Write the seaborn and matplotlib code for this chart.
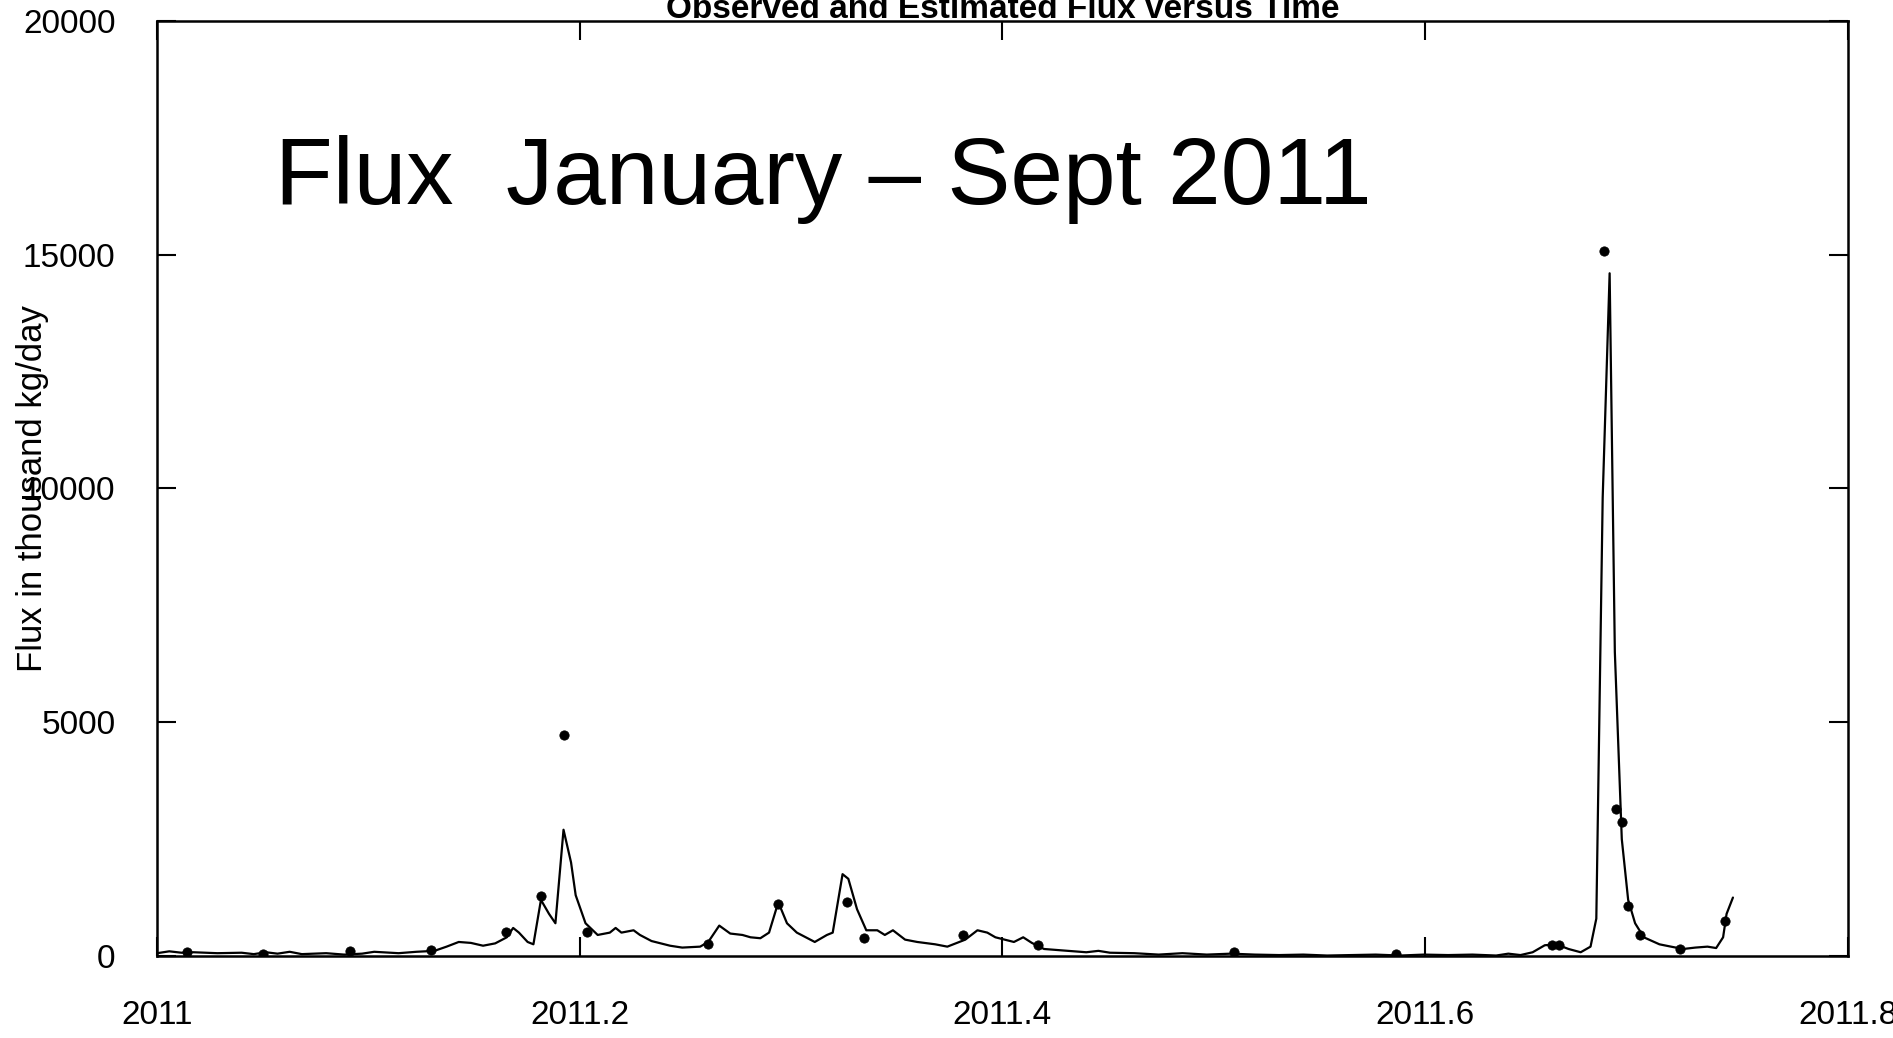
import numpy as np
import pandas as pd
import matplotlib
matplotlib.use("Agg")
import matplotlib.pyplot as plt
import seaborn as sns

# estimated flux (day of year 2011, thousand kg/day)
est_day = [0, 2.1, 4.2, 6.3, 10.4, 14.6, 16.7, 18.8, 20.8, 22.9, 25, 29.2, 32.3, 35.4, 37.5, 41.7,
           44.8, 47.9, 50, 52.1, 54.2, 56.3, 58.4, 60.4, 61.5, 62.5, 64, 65, 66.3, 67.7, 68.8, 70.2,
           71.5, 72.3, 74, 76.1, 78.2, 79.2, 80.2, 82.3, 83.4, 85.4, 88.6, 90.7, 93.8, 95.2, 97.1,
           99, 101.1, 102.5, 104.2, 105.7, 107.3, 108.8, 110.5, 113.6, 115.7, 116.7, 118.4, 119.4,
           120.9, 122.5, 124.4, 125.7, 127.1, 129.2, 131.3, 134.4, 136.5, 139.6, 141.7, 143.4,
           144.8, 148, 149.6, 151.1, 153.2, 156.3, 160.5, 162.6, 164.6, 168.8, 173, 177.1, 181.3,
           185.5, 189.6, 193.8, 198, 202.1, 206.3, 210.5, 214.7, 218.8, 223, 227.2, 231.3, 233.4,
           235.5, 237.6, 239.7, 241.7, 243.8, 245.9, 247.6, 248.6, 249.7, 250.9, 251.8, 253, 254.1,
           255.3, 256.8, 259.5, 261.5, 263.6, 265.7, 267.8, 269.3, 270.5, 271.1, 272.2]
est_flux = [60, 100, 70, 80, 60, 70, 40, 80, 50, 90, 40, 60, 30, 50, 90, 60,
            90, 110, 200, 300, 280, 220, 270, 400, 600, 500, 300, 250, 1200, 900, 700, 2700,
            2000, 1300, 700, 450, 500, 600, 500, 550, 450, 320, 220, 180, 200, 300, 650,
            480, 450, 400, 380, 500, 1150, 700, 500, 300, 450, 500, 1750, 1650,
            1000, 550, 550, 450, 550, 350, 300, 250, 200, 350, 550, 500,
            400, 300, 400, 280, 150, 120, 80, 110, 70, 60, 30, 60, 30,
            50, 30, 20, 30, 10, 20, 30, 10, 30, 20, 30, 10, 50,
            20, 80, 230, 250, 150, 80, 200, 800, 9800, 14600, 6500, 2500, 1200,
            700, 400, 250, 200, 150, 180, 200, 170, 400, 900, 1250]

# observed flux
obs_day = [5.2, 18.3, 33.3, 47.3, 60.2, 66.3, 70.2, 74.2, 95.2, 107.3, 119.2, 122.1, 139.2,
           152.1, 186.1, 214, 240.9, 242.2, 249.9, 252, 253, 254.1, 256.2, 263, 270.9]
obs_flux = [80, 50, 100, 130, 520, 1290, 4720, 520, 260, 1110, 1160, 390, 440,
            230, 80, 50, 230, 230, 15070, 3150, 2860, 1060, 440, 150, 750]

est = pd.DataFrame({"t": 2011 + np.array(est_day) / 365, "flux": est_flux})
obs = pd.DataFrame({"t": 2011 + np.array(obs_day) / 365, "flux": obs_flux})

sns.set_style("white")
plt.rcParams['font.family'] = ['Liberation Sans', 'DejaVu Sans']
plt.rcParams['text.color'] = 'black'
plt.rcParams['xtick.color'] = 'black'
plt.rcParams['ytick.color'] = 'black'
plt.rcParams['axes.labelcolor'] = 'black'

fig = plt.figure(figsize=(18.93, 10.38), dpi=100)
ax = fig.add_axes([0.083, 0.079, 0.893, 0.901])
sns.lineplot(data=est, x="t", y="flux", color="black", linewidth=1.6, ax=ax)
sns.scatterplot(data=obs, x="t", y="flux", color="black", s=45, edgecolor="black", ax=ax)

ax.set_xlim(2011, 2011.8)
ax.set_ylim(0, 20000)
ax.set_xticks([2011, 2011.2, 2011.4, 2011.6, 2011.8])
ax.set_xticklabels(["2011", "2011.2", "2011.4", "2011.6", "2011.8"])
ax.set_yticks([0, 5000, 10000, 15000, 20000])
ax.tick_params(direction="in", length=14, width=1.5, labelsize=24, pad=32,
               top=True, right=True, left=True, bottom=True)
ax.tick_params(axis="y", pad=30)
for s in ax.spines.values():
    s.set_color("black")
    s.set_linewidth(1.8)
ax.set_xlabel("")
ax.set_ylabel("Flux in thousand kg/day", fontsize=25)
ax.yaxis.set_label_coords(-0.064, 0.5)
ax.set_title("Observed and Estimated Flux versus Time", fontsize=24, fontweight="bold", pad=2)
ax.title.set_position((0.5, 1.003))
ax.text(0.07, 0.83, "Flux  January \u2013 Sept 2011", transform=ax.transAxes,
        fontsize=68, va="center", ha="left")

fig.savefig("out.png", dpi=100)
